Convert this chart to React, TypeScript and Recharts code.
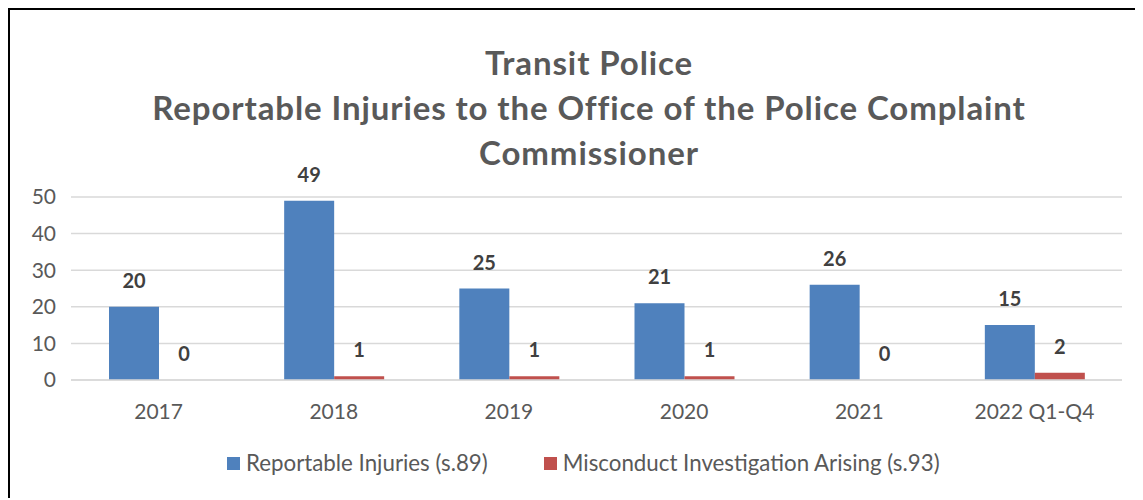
import React from "react";
import { BarChart, Bar, XAxis, YAxis, CartesianGrid, LabelList } from "recharts";

const categories = ["2017", "2018", "2019", "2020", "2021", "2022 Q1-Q4"];
const reportableInjuries = [20, 49, 25, 21, 26, 15];
const misconductInvestigations = [0, 1, 1, 1, 0, 2];
const yTicks = [0, 10, 20, 30, 40, 50];
const titleLines = [
  "Transit Police",
  "Reportable Injuries to the Office of the Police Complaint",
  "Commissioner",
];
const seriesNames = ["Reportable Injuries (s.89)", "Misconduct Investigation Arising (s.93)"];
const colors = ["#4F81BD", "#C0504D"];

const data = categories.map((c, i) => ({
  name: c,
  injuries: reportableInjuries[i],
  misconduct: misconductInvestigations[i],
}));

const FONT = "Lato, 'Open Sans', sans-serif";

export default function App() {
  return (
    <div
      style={{
        position: "relative",
        width: 1131,
        height: 490,
        background: "#fff",
        fontFamily: FONT,
      }}
    >
      <div
        style={{
          position: "absolute",
          left: 0,
          top: 0,
          width: 1135,
          height: 490,
          borderTop: "2px solid #000",
          borderLeft: "2px solid #000",
          boxSizing: "border-box",
          zIndex: 5,
          pointerEvents: "none",
        }}
      />
      <div
        style={{
          position: "absolute",
          left: 0,
          width: 1162,
          top: 32,
          textAlign: "center",
          color: "#595959",
          fontWeight: 700,
          fontSize: 33,
          letterSpacing: 0.9,
          lineHeight: "45px",
        }}
      >
        {titleLines.map((t) => (
          <div key={t}>{t}</div>
        ))}
      </div>
      <div style={{ position: "absolute", left: 0, top: 0 }}>
        <BarChart
          width={1131}
          height={490}
          data={data}
          margin={{ top: 189, right: 17, bottom: 88, left: 23 }}
          barGap={0}
        >
          <CartesianGrid vertical={false} stroke="#d9d9d9" strokeWidth={1.5} />
          <XAxis
            dataKey="name"
            axisLine={{ stroke: "#d9d9d9", strokeWidth: 1.5 }}
            tickLine={false}
            tickSize={0}
            tickMargin={24}
            height={30}
            tick={{ fill: "#595959", fontSize: 21, fontFamily: FONT }}
          />
          <YAxis
            domain={[0, 50]}
            ticks={yTicks}
            axisLine={false}
            tickLine={false}
            tickSize={0}
            tickMargin={15}
            width={40}
            tick={{ fill: "#595959", fontSize: 21, fontFamily: FONT }}
          />
          <Bar
            dataKey="injuries"
            fill={colors[0]}
            barSize={50}
            minPointSize={0.01}
            isAnimationActive={false}
          >
            <LabelList
              dataKey="injuries"
              position="top"
              offset={19}
              fill="#404040"
              fontSize={20}
              fontWeight={700}
              fontFamily={FONT}
            />
          </Bar>
          <Bar
            dataKey="misconduct"
            fill={colors[1]}
            barSize={50}
            minPointSize={0.01}
            isAnimationActive={false}
          >
            <LabelList
              dataKey="misconduct"
              position="top"
              offset={19}
              fill="#404040"
              fontSize={20}
              fontWeight={700}
              fontFamily={FONT}
            />
          </Bar>
        </BarChart>
      </div>
      <div
        style={{
          position: "absolute",
          top: 443,
          left: 219,
          display: "flex",
          alignItems: "center",
          color: "#595959",
          fontSize: 22.3,
          lineHeight: "24px",
          whiteSpace: "nowrap",
        }}
      >
        {seriesNames.map((n, i) => (
          <div key={n} style={{ display: "flex", alignItems: "center", marginRight: i === 0 ? 56 : 0 }}>
            <span style={{ display: "inline-block", width: 13, height: 13, background: colors[i], marginRight: 6 }} />
            <span>{n}</span>
          </div>
        ))}
      </div>
    </div>
  );
}
